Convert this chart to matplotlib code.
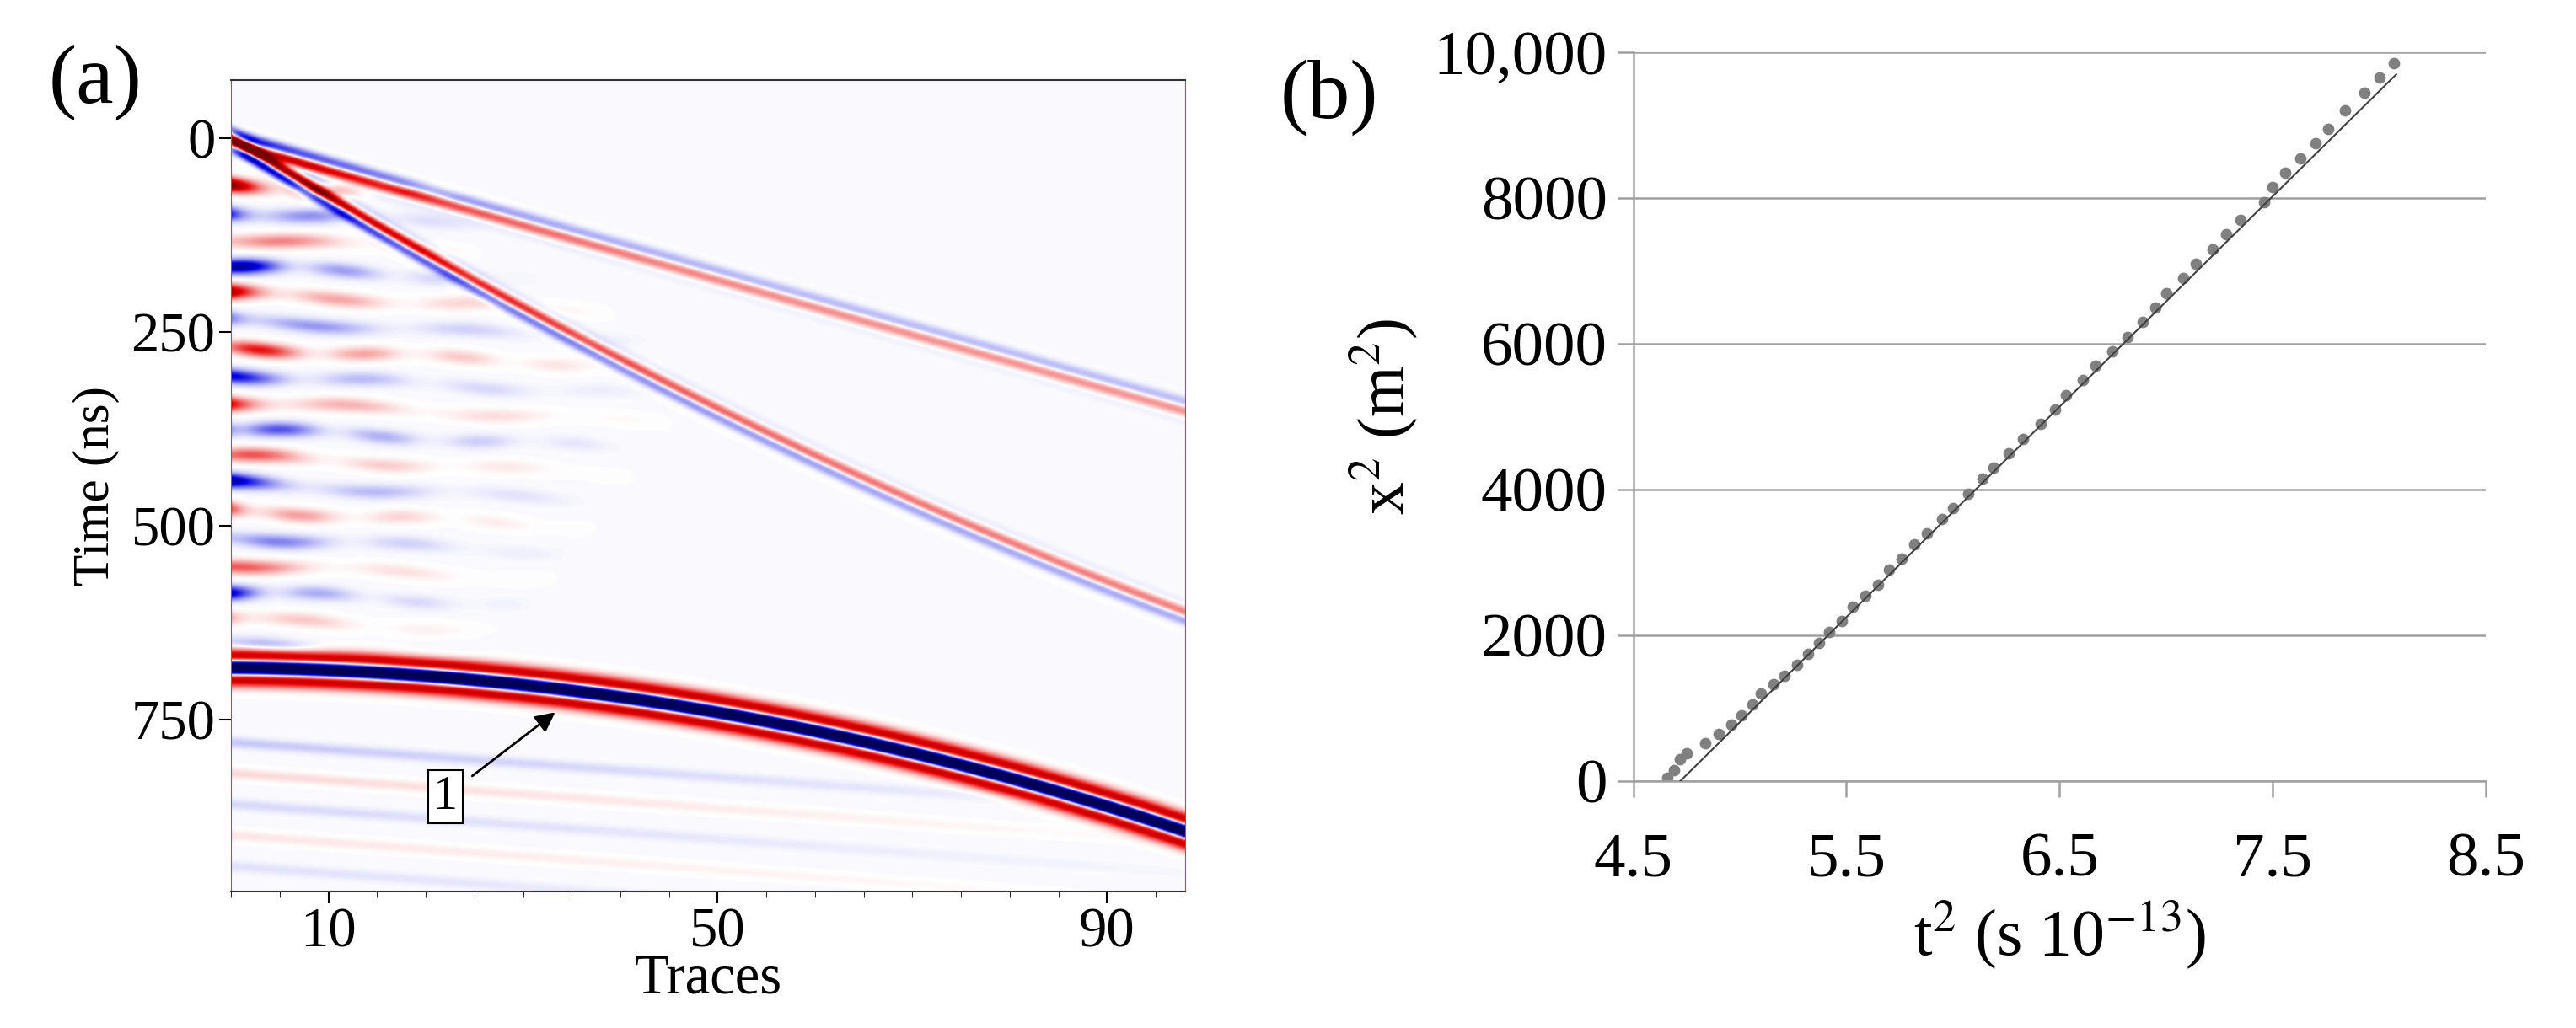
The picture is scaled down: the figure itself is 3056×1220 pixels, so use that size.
import numpy as np
import matplotlib
matplotlib.use("Agg")
import matplotlib.pyplot as plt
from matplotlib.colors import LinearSegmentedColormap
from matplotlib.ticker import MultipleLocator, FuncFormatter

plt.rcParams['font.family'] = ['Liberation Serif', 'DejaVu Serif']
plt.rcParams['mathtext.fontset'] = 'stix'

# ---------------- Panel (a) data: event picks ----------------
air_traces = [0, 50, 98]
air_times = [0, 185, 345]
ground_traces = [0, 15, 50, 98]
ground_times = [0, 120, 350, 615]
refl_traces = [0, 20, 40, 60, 80, 98]
refl_times = [683, 695, 722, 765, 825, 895]
clutter_times = [60, 95, 130, 165, 200, 235, 270, 305, 340, 375, 410, 445, 480, 515, 550, 585, 620, 655]
clutter_amps = [0.9, -0.8, 0.7, -0.9, 0.8, -0.7, 0.9, -0.6, 0.7, -0.8, 0.6, -0.7, 0.6, -0.6, 0.5, -0.6, 0.4, -0.4]
clutter_extent = [30, 28, 26, 32, 40, 44, 45, 46, 46, 44, 42, 40, 38, 36, 34, 32, 30, 28]
deep_times = [780, 820, 860, 900, 940]
deep_amps = [-0.12, 0.1, -0.08, 0.07, -0.06]

# ---------------- Panel (b) data ----------------
t2 = [4.66, 4.69, 4.72, 4.75, 4.84, 4.90, 4.96, 5.01, 5.06, 5.10, 5.16, 5.21, 5.27, 5.32,
      5.37, 5.42, 5.48, 5.53, 5.59, 5.65, 5.70, 5.76, 5.82, 5.88, 5.95, 6.00, 6.07, 6.14,
      6.19, 6.26, 6.33, 6.41, 6.48, 6.53, 6.61, 6.67, 6.75, 6.82, 6.89, 6.95, 7.00, 7.08,
      7.14, 7.22, 7.28, 7.35, 7.46, 7.50, 7.56, 7.63, 7.70, 7.76, 7.84, 7.93, 8.00, 8.07]
x2 = [50, 150, 300, 380, 520, 650, 780, 900, 1050, 1200, 1330, 1450, 1600, 1750,
      1900, 2050, 2200, 2400, 2550, 2700, 2900, 3050, 3250, 3400, 3600, 3750, 3950, 4150,
      4300, 4500, 4700, 4900, 5100, 5300, 5500, 5700, 5900, 6100, 6300, 6500, 6700, 6900,
      7100, 7300, 7500, 7700, 7950, 8150, 8350, 8550, 8750, 8950, 9200, 9450, 9650, 9850]
fit_t2 = [4.72, 8.08]
fit_x2 = [0, 9700]

# ---------------- build radargram ----------------
tr = np.linspace(0, 98, 400)
tm = np.linspace(-75, 972, 900)
T, X = np.meshgrid(tm, tr, indexing='ij')

def ricker(tau, f):
    a = (np.pi * f * tau) ** 2
    return (1 - 2 * a) * np.exp(-a)

img = np.zeros_like(T)
t_air = np.polyval(np.polyfit(air_traces, air_times, 1), X)
d = T - t_air
img += (0.3 + 0.9 * np.exp(-X / 15)) * np.exp(-(d / 12) ** 2) * np.sin(2 * np.pi * d / 36 + 0.6)
t_g = np.polyval(np.polyfit(ground_traces, ground_times, 2), X)
d = T - t_g
img += (0.35 + 1.0 * np.exp(-X / 20)) * np.exp(-(d / 12) ** 2) * np.sin(2 * np.pi * d / 34 + 2.6)
t_r = np.polyval(np.polyfit(refl_traces, refl_times, 2), X)
d = T - t_r
img += -1.6 * ricker(d, 0.024)
for k, (tc, a, ext) in enumerate(zip(clutter_times, clutter_amps, clutter_extent)):
    tt = tc + 0.6 * X + 3 * np.sin(X / 4.0 + k)
    env = 0.35 * np.clip(1 - X / ext, 0, 1) + 0.9 * np.exp(-X / 4)
    mod = 0.6 + 0.4 * np.cos(X / (1.6 + 0.4 * (k % 3)) + 1.7 * k)
    img += 0.9 * a * env * mod * np.exp(-((T - tt) / 9) ** 2)
for tc, a in zip(deep_times, deep_amps):
    tt = tc + 0.9 * X
    img += a * np.exp(-((T - tt) / 7) ** 2) * np.clip(1 - X / 110, 0, 1)
img[T < t_air - 25] *= 0.15
img -= 0.01
img = np.clip(img, -1, 1)

cmap = LinearSegmentedColormap.from_list(
    'gpr', [(0, '#00005a'), (0.2, '#0000e0'), (0.5, '#ffffff'), (0.8, '#e80000'), (1, '#7a0000')])

fig = plt.figure(figsize=(30.56, 12.2), dpi=100)
axa = fig.add_axes([0.0897, 0.133, 0.3703, 0.789])
axa.imshow(img, cmap=cmap, vmin=-1, vmax=1, aspect='auto',
           extent=[0, 98, 972, -75], interpolation='bilinear')
axa.set_xlim(0, 98)
axa.set_ylim(972, -75)
axa.set_yticks([0, 250, 500, 750])
axa.set_xticks([10, 50, 90])
axa.xaxis.set_minor_locator(MultipleLocator(5))
axa.tick_params(axis='both', labelsize=48, length=10, width=1.5, direction='out')
axa.tick_params(axis='x', which='minor', length=5)
axa.set_ylabel('Time (ns)', fontsize=44, labelpad=10)
axa.set_xlabel('Traces', fontsize=48, labelpad=-4)
for s in ['left', 'right']:
    axa.spines[s].set_color('#d04040')
for s in ['top', 'bottom']:
    axa.spines[s].set_color('#333333')
    axa.spines[s].set_linewidth(1.5)
axa.annotate('1', xy=(33.3, 741), xytext=(22, 850), fontsize=42, ha='center', va='center',
             bbox=dict(boxstyle='square,pad=0.1', fc='white', ec='black', lw=1.5),
             arrowprops=dict(arrowstyle='-|>', color='black', lw=2, mutation_scale=35,
                             shrinkA=10, shrinkB=0))
fig.text(0.019, 0.92, '(a)', fontsize=72, va='center')

# ---------------- panel (b) ----------------
axb = fig.add_axes([0.634, 0.240, 0.331, 0.709])
axb.set_xlim(4.5, 8.5)
axb.set_ylim(0, 10000)
axb.set_xticks([4.5, 5.5, 6.5, 7.5, 8.5])
axb.set_yticks([0, 2000, 4000, 6000, 8000, 10000])
axb.yaxis.set_major_formatter(FuncFormatter(lambda v, p: '10,000' if v == 10000 else f'{int(v)}'))
axb.xaxis.set_major_formatter(FuncFormatter(lambda v, p: f'{v:.1f}'))
axb.grid(axis='y', color='#a0a0a0', lw=1.8)
axb.set_axisbelow(True)
for s in ['top', 'right']:
    axb.spines[s].set_visible(False)
for s in ['left', 'bottom']:
    axb.spines[s].set_color('#a0a0a0')
    axb.spines[s].set_linewidth(1.8)
axb.tick_params(axis='y', length=14, width=1.8, color='#a0a0a0', labelsize=54, pad=8)
axb.tick_params(axis='x', length=14, width=1.8, color='#a0a0a0', labelsize=54, pad=30)
axb.plot(fit_t2, fit_x2, color='#404040', lw=1.5, zorder=3)
axb.scatter(t2, x2, s=80, color='#808080', zorder=2)
axb.set_xlabel('t$^2$ (s 10$^{-13}$)', fontsize=56, labelpad=8)
axb.set_ylabel('x$^2$ (m$^2$)', fontsize=56, labelpad=12)
fig.text(0.497, 0.905, '(b)', fontsize=72, va='center')

fig.savefig('out.png', dpi=100)
